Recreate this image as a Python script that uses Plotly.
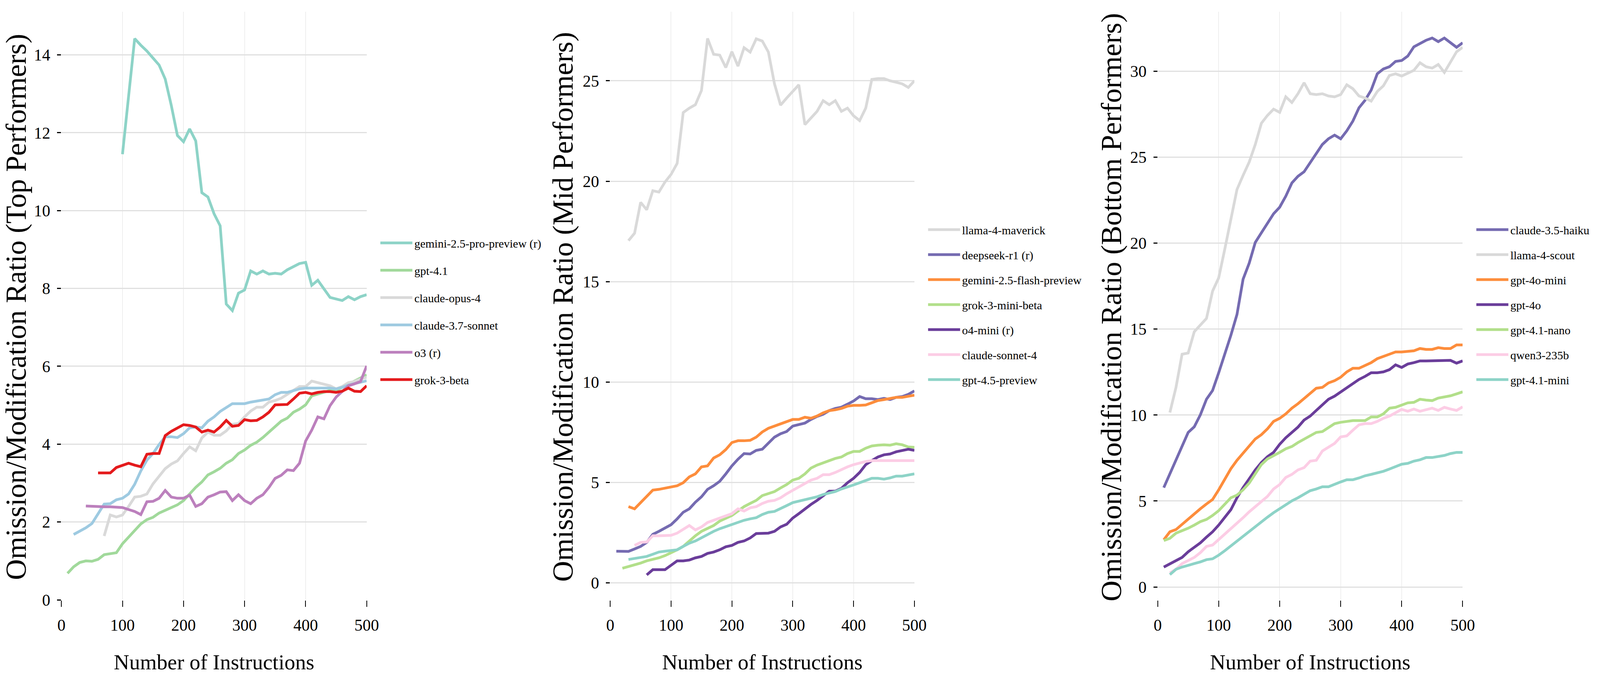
import plotly.graph_objects as go

INSTRUCTIONS = list(range(10, 501, 10))
X_TICKS = [0, 100, 200, 300, 400, 500]

# ---------------- Top performers ----------------
top_names = ["gemini-2.5-pro-preview (r)", "gpt-4.1", "claude-opus-4",
             "claude-3.7-sonnet", "o3 (r)", "grok-3-beta"]
top_colors = ["#8dd3c7", "#a1d99b", "#d9d9d9", "#9ecae1", "#bc80bd", "#e41a1c"]
gemini_pro = [11.45, 12.98, 14.42, 14.25, 14.10, 13.92, 13.74, 13.38, 12.70, 11.93,
              11.77, 12.10, 11.79, 10.46, 10.35, 9.92, 9.61, 7.60, 7.43, 7.88,
              7.96, 8.45, 8.37, 8.45, 8.37, 8.39, 8.37, 8.48, 8.56, 8.64,
              8.67, 8.08, 8.21, 7.99, 7.77, 7.73, 7.69, 7.79, 7.71, 7.79, 7.84]
gpt41 = [0.68, 0.85, 0.96, 1.00, 0.99, 1.04, 1.16, 1.18, 1.21, 1.44,
         1.61, 1.78, 1.95, 2.06, 2.12, 2.23, 2.30, 2.36, 2.44, 2.55,
         2.72, 2.89, 3.03, 3.21, 3.29, 3.38, 3.51, 3.60, 3.76, 3.85,
         3.97, 4.05, 4.17, 4.31, 4.44, 4.59, 4.67, 4.82, 4.90, 5.01,
         5.24, 5.29, 5.33, 5.38, 5.38, 5.46, 5.53, 5.61, 5.70, 5.78]
claude_opus4 = [1.64, 2.18, 2.13, 2.18,
                2.40, 2.64, 2.66, 2.72, 2.98, 3.17, 3.37, 3.49, 3.57, 3.76,
                3.93, 3.83, 4.16, 4.31, 4.23, 4.23, 4.34, 4.51, 4.53, 4.70,
                4.85, 4.95, 4.95, 5.08, 5.12, 5.18, 5.27, 5.38, 5.48, 5.48,
                5.62, 5.58, 5.53, 5.50, 5.42, 5.48, 5.58, 5.61, 5.67, 5.72]
claude37 = [1.68, 1.76, 1.85, 1.96, 2.21, 2.46, 2.47, 2.57, 2.61,
            2.72, 2.97, 3.31, 3.59, 3.76, 3.99, 4.19, 4.19, 4.17, 4.27,
            4.42, 4.44, 4.42, 4.59, 4.70, 4.84, 4.93, 5.04, 5.04, 5.04,
            5.08, 5.11, 5.14, 5.16, 5.27, 5.33, 5.33, 5.38, 5.42, 5.44,
            5.44, 5.44, 5.44, 5.44, 5.42, 5.46, 5.52, 5.55, 5.59, 5.63]
o3 = [2.41, 2.40, 2.40, 2.39, 2.39, 2.38, 2.37,
      2.32, 2.27, 2.19, 2.52, 2.53, 2.61, 2.81, 2.64, 2.61, 2.61,
      2.69, 2.40, 2.47, 2.64, 2.70, 2.77, 2.78, 2.55, 2.70, 2.55,
      2.47, 2.61, 2.70, 2.89, 3.12, 3.20, 3.34, 3.32, 3.51, 4.08,
      4.36, 4.70, 4.65, 4.99, 5.21, 5.36, 5.50, 5.55, 5.61, 6.01]
grok3 = [3.26, 3.26, 3.26, 3.40, 3.46,
         3.51, 3.46, 3.42, 3.74, 3.76, 3.76, 4.22, 4.33, 4.42, 4.50,
         4.48, 4.44, 4.31, 4.36, 4.31, 4.44, 4.61, 4.46, 4.48, 4.63,
         4.60, 4.61, 4.70, 4.82, 5.01, 5.01, 5.02, 5.16, 5.31, 5.33,
         5.29, 5.33, 5.35, 5.35, 5.33, 5.36, 5.44, 5.36, 5.35, 5.50]
top_values = [gemini_pro, gpt41, claude_opus4, claude37, o3, grok3]
top_yticks = [0, 2, 4, 6, 8, 10, 12, 14]

# ---------------- Mid performers ----------------
mid_names = ["llama-4-maverick", "deepseek-r1 (r)", "gemini-2.5-flash-preview",
             "grok-3-mini-beta", "o4-mini (r)", "claude-sonnet-4", "gpt-4.5-preview"]
mid_colors = ["#d9d9d9", "#756bb1", "#fd8d3c", "#b2df8a", "#6a3d9a", "#fccde5", "#8dd3c7"]
llama_mav = [17.04, 17.41, 18.95, 18.58, 19.53, 19.46, 19.96, 20.34,
             20.89, 23.42, 23.64, 23.81, 24.52, 27.11, 26.32, 26.28, 25.66, 26.45,
             25.73, 26.65, 26.43, 27.09, 26.98, 26.43, 24.85, 23.79, 24.14, 24.47,
             24.80, 22.82, 23.13, 23.48, 24.01, 23.81, 24.01, 23.48, 23.64, 23.26,
             23.02, 23.64, 25.07, 25.11, 25.11, 25.00, 24.93, 24.85, 24.67, 25.00]
deepseek = [1.58, 1.58, 1.57, 1.69, 1.82, 2.02, 2.42, 2.57, 2.75, 2.90,
            3.19, 3.52, 3.69, 4.02, 4.29, 4.66, 4.84, 5.06, 5.43, 5.83,
            6.16, 6.44, 6.42, 6.60, 6.66, 6.97, 7.26, 7.43, 7.54, 7.81,
            7.87, 7.96, 8.14, 8.29, 8.40, 8.58, 8.69, 8.75, 8.90, 9.06,
            9.28, 9.17, 9.17, 9.13, 9.19, 9.13, 9.24, 9.28, 9.39, 9.56]
gemini_flash = [3.80, 3.69, 4.00, 4.33, 4.62, 4.66, 4.73, 4.77,
                4.84, 4.99, 5.28, 5.43, 5.78, 5.83, 6.22, 6.38, 6.64, 6.99,
                7.08, 7.08, 7.10, 7.26, 7.52, 7.70, 7.81, 7.92, 8.03, 8.14,
                8.14, 8.25, 8.20, 8.31, 8.47, 8.58, 8.62, 8.69, 8.80, 8.84,
                8.84, 8.86, 8.97, 9.08, 9.13, 9.17, 9.24, 9.24, 9.28, 9.35]
grok3_mini = [0.73, 0.81, 0.88, 0.99, 1.10, 1.17, 1.25, 1.36, 1.50,
              1.65, 1.82, 2.09, 2.35, 2.57, 2.70, 2.86, 3.08, 3.23, 3.36,
              3.58, 3.80, 3.96, 4.11, 4.35, 4.46, 4.55, 4.73, 4.90, 5.12,
              5.21, 5.43, 5.72, 5.87, 5.98, 6.11, 6.20, 6.27, 6.44, 6.55,
              6.55, 6.71, 6.82, 6.86, 6.88, 6.86, 6.93, 6.88, 6.77, 6.75]
o4_mini = [0.40, 0.66, 0.66, 0.66, 0.88,
           1.10, 1.10, 1.14, 1.25, 1.32, 1.47, 1.54, 1.65, 1.80, 1.87,
           2.02, 2.09, 2.24, 2.46, 2.48, 2.48, 2.57, 2.79, 2.92, 3.23,
           3.45, 3.69, 3.91, 4.11, 4.35, 4.57, 4.57, 4.71, 4.99, 5.21,
           5.50, 5.89, 6.09, 6.27, 6.38, 6.42, 6.53, 6.60, 6.66, 6.60]
claude_sonnet4 = [1.87, 2.02, 2.04, 2.35, 2.35, 2.35, 2.37,
                  2.48, 2.68, 2.86, 2.64, 2.79, 3.01, 3.12, 3.23, 3.36, 3.45,
                  3.69, 3.58, 3.74, 3.80, 3.96, 4.07, 4.11, 4.24, 4.44, 4.62,
                  4.77, 4.95, 5.12, 5.21, 5.39, 5.39, 5.50, 5.65, 5.78, 5.89,
                  5.98, 6.05, 6.09, 6.09, 6.09, 6.09, 6.09, 6.11, 6.11, 6.09]
gpt45 = [1.17, 1.21, 1.28, 1.32, 1.43, 1.54, 1.58, 1.61,
         1.65, 1.82, 1.98, 2.09, 2.26, 2.42, 2.57, 2.70, 2.81, 2.90,
         3.01, 3.12, 3.19, 3.25, 3.41, 3.52, 3.56, 3.69, 3.85, 4.00,
         4.07, 4.13, 4.22, 4.29, 4.40, 4.46, 4.55, 4.68, 4.77, 4.88,
         4.99, 5.10, 5.21, 5.21, 5.17, 5.23, 5.32, 5.32, 5.39, 5.43]
mid_values = [llama_mav, deepseek, gemini_flash, grok3_mini, o4_mini, claude_sonnet4, gpt45]
mid_yticks = [0, 5, 10, 15, 20, 25]

# ---------------- Bottom performers ----------------
bot_names = ["claude-3.5-haiku", "llama-4-scout", "gpt-4o-mini", "gpt-4o",
             "gpt-4.1-nano", "qwen3-235b", "gpt-4.1-mini"]
bot_colors = ["#756bb1", "#d9d9d9", "#fd8d3c", "#6a3d9a", "#b2df8a", "#fccde5", "#8dd3c7"]
haiku35 = [5.78, 6.60, 7.32, 8.17, 8.99, 9.32, 10.02, 10.92, 11.43, 12.46,
           13.49, 14.64, 15.85, 17.90, 18.83, 20.04, 20.60, 21.19, 21.71, 22.09,
           22.73, 23.50, 23.89, 24.15, 24.66, 25.17, 25.74, 26.07, 26.28, 26.07,
           26.53, 27.10, 27.87, 28.31, 28.90, 29.85, 30.13, 30.26, 30.57, 30.62,
           30.88, 31.42, 31.60, 31.80, 31.93, 31.72, 31.93, 31.67, 31.39, 31.65]
llama_scout = [10.15, 11.61, 13.54, 13.61, 14.85, 15.21, 15.62, 17.21, 17.98,
               19.65, 21.45, 23.12, 23.94, 24.71, 25.74, 26.97, 27.43, 27.79, 27.61,
               28.51, 28.18, 28.69, 29.33, 28.69, 28.64, 28.69, 28.56, 28.51, 28.64,
               29.21, 28.98, 28.56, 28.44, 28.26, 28.82, 29.15, 29.75, 29.85, 29.72,
               29.87, 30.05, 30.49, 30.26, 30.18, 30.39, 29.93, 30.57, 31.13, 31.39]
gpt4o_mini = [2.75, 3.21, 3.34, 3.65, 3.98, 4.29, 4.55, 4.83, 5.09, 5.65,
              6.29, 6.88, 7.37, 7.78, 8.22, 8.61, 8.86, 9.20, 9.63, 9.81,
              10.07, 10.40, 10.66, 10.97, 11.23, 11.56, 11.61, 11.87, 12.00, 12.20,
              12.51, 12.72, 12.72, 12.89, 13.05, 13.28, 13.41, 13.56, 13.67, 13.67,
              13.69, 13.74, 13.87, 13.82, 13.82, 13.92, 13.87, 13.87, 14.08, 14.08]
gpt4o = [1.16, 1.34, 1.54, 1.72, 2.05, 2.31, 2.57, 2.90, 3.21, 3.60,
         4.06, 4.50, 5.19, 5.78, 6.29, 6.81, 7.24, 7.58, 7.83, 8.30,
         8.68, 8.99, 9.30, 9.71, 9.94, 10.27, 10.61, 10.92, 11.10, 11.35,
         11.61, 11.82, 12.07, 12.25, 12.46, 12.46, 12.51, 12.64, 12.92, 12.77,
         12.97, 13.05, 13.15, 13.15, 13.15, 13.18, 13.18, 13.18, 13.02, 13.15]
gpt41_nano = [2.70, 2.83, 3.13, 3.26, 3.42, 3.60, 3.80, 3.93, 4.16, 4.44,
              4.83, 5.19, 5.34, 5.65, 6.04, 6.55, 7.12, 7.45, 7.63, 7.83,
              8.04, 8.17, 8.40, 8.61, 8.81, 8.99, 9.04, 9.25, 9.50, 9.58,
              9.63, 9.68, 9.68, 9.68, 9.89, 9.89, 10.07, 10.40, 10.45, 10.58,
              10.71, 10.74, 10.92, 10.87, 10.84, 10.99, 11.05, 11.12, 11.23, 11.35]
qwen3 = [0.82, 1.03, 1.36, 1.54, 1.72, 2.00, 2.36, 2.44, 2.75,
         3.08, 3.42, 3.72, 4.03, 4.37, 4.68, 4.96, 5.27, 5.70, 5.96,
         6.37, 6.55, 6.81, 6.94, 7.32, 7.37, 7.91, 8.14, 8.35, 8.73,
         8.79, 9.12, 9.43, 9.50, 9.50, 9.63, 9.81, 9.94, 10.15, 10.33,
         10.22, 10.35, 10.22, 10.33, 10.40, 10.27, 10.45, 10.35, 10.27, 10.48]
gpt41_mini = [0.72, 1.03, 1.16, 1.28, 1.36, 1.46, 1.59, 1.64, 1.85,
              2.11, 2.39, 2.70, 2.95, 3.21, 3.54, 3.78, 4.06, 4.32, 4.55,
              4.80, 5.01, 5.19, 5.39, 5.60, 5.70, 5.83, 5.83, 5.99, 6.11,
              6.24, 6.24, 6.34, 6.47, 6.55, 6.63, 6.73, 6.86, 7.01, 7.14,
              7.19, 7.32, 7.40, 7.53, 7.53, 7.58, 7.65, 7.76, 7.83, 7.83]
bot_values = [haiku35, llama_scout, gpt4o_mini, gpt4o, gpt41_nano, qwen3, gpt41_mini]
bot_yticks = [0, 5, 10, 15, 20, 25, 30]

Y_TITLES = ["Omission/Modification Ratio (Top Performers)",
            "Omission/Modification Ratio (Mid Performers)",
            "Omission/Modification Ratio (Bottom Performers)"]
X_TITLE = "Number of Instructions"

# ---------------- figure ----------------
# The reference is 5965 x 1772; the browser viewport is 4096 CSS px wide, so the
# layout is kept in reference fractions.
REF_W, REF_H = 5965, 1772
W, H = 4096, 1772
FONT = "Liberation Serif"

fig = go.Figure()

panels = [
    (top_names, top_colors, top_values, top_yticks, [-0.01, 15.11]),
    (mid_names, mid_colors, mid_values, mid_yticks, [-0.86, 28.44]),
    (bot_names, bot_colors, bot_values, bot_yticks, [-0.77, 33.46]),
]
x_domains = [(229 / REF_W, 1367 / REF_W), (2275 / REF_W, 3409 / REF_W), (4316 / REF_W, 5453 / REF_W)]
y_domain = (1 - 1537 / REF_H, 1 - 30 / REF_H)
ytitle_x = [60 / REF_W, 2098 / REF_W, 4143 / REF_W]
legend_center_y = [797, 780, 780]
legend_gap = [28, 22, 22]
legend_keys = ["legend", "legend2", "legend3"]

TICK_FONT = dict(family=FONT, size=42, color="black")
TITLE_X_FONT = dict(family=FONT, size=55, color="black")
TITLE_Y_FONT = dict(family=FONT, size=74, color="black")

for p, (names, colors, values, yticks, yrange) in enumerate(panels):
    xa = "x" if p == 0 else f"x{p + 1}"
    ya = "y" if p == 0 else f"y{p + 1}"
    for name, color, vals in zip(names, colors, values):
        xs = INSTRUCTIONS[len(INSTRUCTIONS) - len(vals):]
        fig.add_trace(go.Scatter(
            x=xs, y=vals, mode="lines", name=name,
            line=dict(color=color, width=7),
            xaxis=xa, yaxis=ya, legend=legend_keys[p],
            legendgroup=f"{p}-{name}",
        ))

    suffix = "" if p == 0 else str(p + 1)
    fig.layout[f"xaxis{suffix}"] = dict(
        domain=list(x_domains[p]), anchor=ya, range=[0, 500],
        tickvals=X_TICKS, showline=False, zeroline=False, showgrid=True,
        gridcolor="#e0e0e0", gridwidth=1.2,
        ticks="outside", ticklen=16, tickwidth=2, tickcolor="black",
        tickfont=TICK_FONT, ticklabelstandoff=11,
        title=dict(text=X_TITLE, font=TITLE_X_FONT, standoff=52),
    )
    fig.layout[f"yaxis{suffix}"] = dict(
        domain=list(y_domain), anchor=xa, range=yrange,
        tickvals=yticks, showline=False, zeroline=False, showgrid=True,
        gridcolor="#e0e0e0", gridwidth=2.7,
        ticks="outside", ticklen=10, tickwidth=3, tickcolor="black",
        tickfont=TICK_FONT, ticklabelstandoff=9,
    )
    fig.add_annotation(
        text=Y_TITLES[p], textangle=-90, showarrow=False,
        xref="paper", yref="paper", x=ytitle_x[p], y=1 - 786 / REF_H,
        xanchor="center", yanchor="middle", font=TITLE_Y_FONT,
    )
    fig.layout[legend_keys[p]] = dict(
        x=(x_domains[p][1] * W + 30) / W, xanchor="left",
        y=1 - legend_center_y[p] / REF_H, yanchor="middle",
        font=dict(family=FONT, size=30, color="black"),
        bgcolor="rgba(0,0,0,0)", borderwidth=0,
        traceorder="grouped", tracegroupgap=legend_gap[p], itemwidth=82,
    )

fig.update_layout(
    width=W, height=H,
    margin=dict(l=0, r=0, t=0, b=0, autoexpand=False),
    paper_bgcolor="white", plot_bgcolor="white",
    font=dict(family=FONT, color="black"),
    showlegend=True,
)

fig.write_html(
    "out.html",
    config={"displayModeBar": False},
    post_script="document.body.style.margin='0';document.body.style.overflow='hidden';",
)
